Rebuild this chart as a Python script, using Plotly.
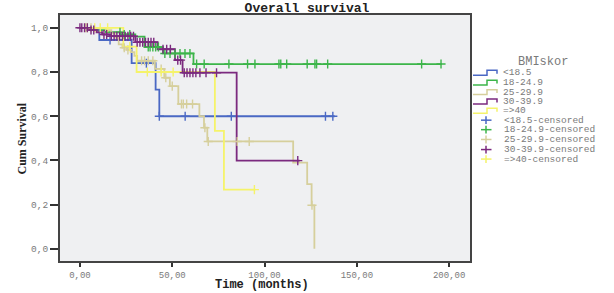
import plotly.graph_objects as go

# ---------------- data ----------------
groups = ["<18.5", "18-24.9", "25-29.9", "30-39.9", "=>40"]

blue_t = [0, 10.5, 28, 41, 43]
blue_s = [1.0, 0.945, 0.84, 0.72, 0.60]
blue_end = 138
blue_cens = [16.3, 36, 43, 57, 82, 133, 137]

green_t = [0, 6, 14, 22, 30, 35, 45, 61.5]
green_s = [1.0, 0.99, 0.98, 0.97, 0.96, 0.913, 0.884, 0.836]
green_end = 196
green_cens = [21.7, 24, 27, 37, 38, 39.5, 41, 42.5, 46, 48.8, 51.5, 54.2, 56.9, 59.6,
              63.2, 67.3, 80.7, 90.8, 94.8, 107.8, 108.8, 112, 123.1, 127.3, 128.2,
              134.2, 185.1, 195.6]

beige_t = [0, 14, 17, 19, 21, 23, 25.5, 27.5, 29.5, 31, 40.6, 45.7, 48.7, 53.3,
           64.7, 67.2, 69, 115.5, 123.1, 125.5, 127]
beige_s = [1.0, 0.99, 0.975, 0.955, 0.925, 0.91, 0.9, 0.89, 0.873, 0.851, 0.814,
           0.774, 0.736, 0.655, 0.6, 0.548, 0.486, 0.39, 0.293, 0.197, 0.0]
beige_end = 127
beige_cens = [3, 6, 24, 26, 33.4, 35, 37, 39.5, 44, 46.5, 50, 55, 56, 57.8, 61,
              67.7, 69.5, 85.2, 91.7, 125.7]

purple_t = [0, 5, 9, 12, 16, 30, 42, 51.5, 55.6, 84.9]
purple_s = [1.0, 0.99, 0.98, 0.97, 0.962, 0.935, 0.903, 0.854, 0.797, 0.399]
purple_end = 119
purple_cens = [0, 1, 2.5, 4, 6, 7.5, 13, 14.5, 17, 18.5, 20, 21.5, 23, 24.5, 26,
               27.5, 29, 31, 32.5, 34, 35.5, 37, 38.5, 40, 45, 47, 49, 53, 54.5,
               56.5, 58, 59.6, 61.2, 62.8, 65, 68.3, 74, 118]

yellow_t = [0, 23.5, 30.7, 73.1, 78]
yellow_s = [1.0, 0.915, 0.8, 0.534, 0.268]
yellow_end = 95
yellow_cens = [4, 8, 11, 15, 27, 36.5, 44, 50.5, 94.5]

x_tickvals = [0, 50, 100, 150, 200]
x_ticktext = ["0,00", "50,00", "100,00", "150,00", "200,00"]
y_tickvals = [0.0, 0.2, 0.4, 0.6, 0.8, 1.0]
y_ticktext = ["0,0", "0,2", "0,4", "0,6", "0,8", "1,0"]

# ---------------- styling ----------------
colors = ["#4a68c4", "#3cb54a", "#d6cf9c", "#7b2a7f", "#f5f36a"]
MONO = "Liberation Mono"
GRAY = "#7a7a7a"

series = [
    (blue_t, blue_s, blue_end, blue_cens),
    (green_t, green_s, green_end, green_cens),
    (beige_t, beige_s, beige_end, beige_cens),
    (purple_t, purple_s, purple_end, purple_cens),
    (yellow_t, yellow_s, yellow_end, yellow_cens),
]
draw_order = [1, 0, 2, 4, 3]


def step_val(ts, ss, t):
    v = ss[0]
    for ti, si in zip(ts, ss):
        if ti <= t:
            v = si
    return v


fig = go.Figure()
for i in draw_order:
    ts, ss, end, cens = series[i]
    xs = list(ts)
    ys = list(ss)
    if end > xs[-1]:
        xs.append(end)
        ys.append(ss[-1])
    fig.add_trace(go.Scatter(x=xs, y=ys, mode="lines", line_shape="hv",
                             line=dict(color=colors[i], width=1.8),
                             name=groups[i], showlegend=False, hoverinfo="skip"))
for i in draw_order:
    ts, ss, end, cens = series[i]
    fig.add_trace(go.Scatter(x=cens, y=[step_val(ts, ss, c) for c in cens],
                             mode="markers",
                             marker=dict(symbol="cross-thin", size=6.5,
                                         color=colors[i],
                                         line=dict(color=colors[i], width=1.4)),
                             name=groups[i] + "-censored", showlegend=False,
                             hoverinfo="skip"))

# plot-area pixel geometry
PL, PR, PT, PB = 60, 470, 15, 266
W, H = 614, 293


def pxx(x):
    return (x - PL) / (PR - PL)


def pxy(y):
    return (PB - y) / (PB - PT)


shapes = []
annotations = []

# manual legend
annotations.append(dict(text="BMIskor", x=pxx(543), y=pxy(62.5), xref="paper", yref="paper",
                        showarrow=False, xanchor="center", yanchor="middle",
                        font=dict(family=MONO, size=12, color=GRAY)))
line_rows = [74, 84, 93.7, 103.3, 112.7]
cens_rows = [122.3, 132, 142, 152.3, 162]
for i, g in enumerate(groups):
    y = line_rows[i]
    path = "M {} {} L {} {} L {} {} L {} {} L {} {}".format(
        pxx(473), pxy(y + 2.5), pxx(487), pxy(y + 2.5), pxx(487), pxy(y - 2.5),
        pxx(497), pxy(y - 2.5), pxx(497), pxy(y + 1))
    shapes.append(dict(type="path", path=path, xref="paper", yref="paper",
                       line=dict(color=colors[i], width=1.5)))
    annotations.append(dict(text=g, x=pxx(501), y=pxy(y), xref="paper", yref="paper",
                            showarrow=False, xanchor="left", yanchor="middle",
                            font=dict(family=MONO, size=9.5, color=GRAY)))
    yc = cens_rows[i]
    shapes.append(dict(type="line", xref="paper", yref="paper",
                       x0=pxx(481), x1=pxx(491.5), y0=pxy(yc), y1=pxy(yc),
                       line=dict(color=colors[i], width=1.5)))
    shapes.append(dict(type="line", xref="paper", yref="paper",
                       x0=pxx(486), x1=pxx(486), y0=pxy(yc - 4), y1=pxy(yc + 4),
                       line=dict(color=colors[i], width=1.5)))
    annotations.append(dict(text=g + "-censored", x=pxx(502), y=pxy(yc), xref="paper",
                            yref="paper", showarrow=False, xanchor="left",
                            yanchor="middle",
                            font=dict(family=MONO, size=9.5, color=GRAY)))

# axis titles
annotations.append(dict(text="Time (months)", x=pxx(262), y=pxy(290), xref="paper",
                        yref="paper", showarrow=False, xanchor="center", yanchor="middle",
                        font=dict(family=MONO, size=12, color="#222222", weight="bold")))
annotations.append(dict(text="Cum Survival", x=pxx(22), y=pxy(141), xref="paper",
                        yref="paper", showarrow=False, xanchor="center", yanchor="middle",
                        textangle=-90,
                        font=dict(family="Liberation Serif", size=12, color="#222222",
                                  weight="bold")))

fig.update_layout(
    width=W, height=H,
    margin=dict(l=PL, r=W - PR, t=PT, b=H - PB, pad=0),
    paper_bgcolor="white",
    plot_bgcolor="#eff0f2",
    showlegend=False,
    title=dict(text="Overall survival", x=0.5, xanchor="center",
               y=1 - 7.5 / H, yanchor="middle", yref="container",
               font=dict(family=MONO, size=13, color="#222222", weight="bold")),
    shapes=shapes,
    annotations=annotations,
)
fig.update_xaxes(range=[-10.8, 211.3], tickvals=x_tickvals, ticktext=x_ticktext,
                 showgrid=False, zeroline=False, showline=True, linecolor="#444444",
                 linewidth=2, mirror=True, ticks="outside", ticklen=4, tickwidth=1.5,
                 tickcolor="#333333",
                 tickfont=dict(family=MONO, size=9, color=GRAY))
fig.update_yaxes(range=[-0.055, 1.058], tickvals=y_tickvals, ticktext=y_ticktext,
                 showgrid=False, zeroline=False, showline=True, linecolor="#444444",
                 linewidth=2, mirror=True, ticks="outside", ticklen=8, tickwidth=1.5,
                 tickcolor="#333333",
                 tickfont=dict(family=MONO, size=9.5, color=GRAY))

fig.write_html("out.html", config={"displayModeBar": False},
               post_script="document.body.style.margin='0';document.body.style.overflow='hidden';")
